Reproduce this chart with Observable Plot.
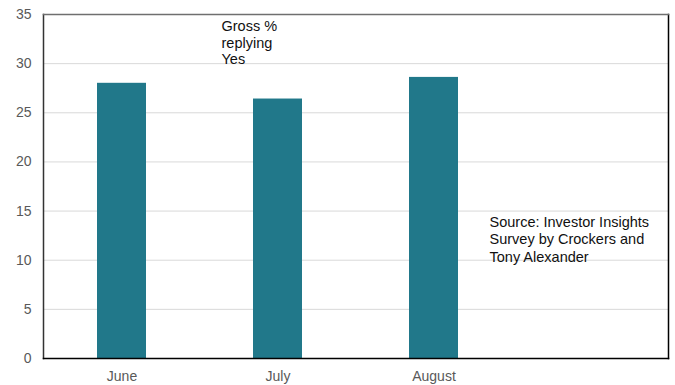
<!DOCTYPE html>
<html>
<head>
<meta charset="utf-8">
<script src="https://cdn.jsdelivr.net/npm/d3@7"></script>
<script src="https://cdn.jsdelivr.net/npm/@observablehq/plot@0.6"></script>
<style>
  html, body { margin: 0; padding: 0; background: #fff; }
  #chart { width: 675px; height: 385px; }
</style>
</head>
<body>
<div id="chart"></div>
<script>
const months = ["June", "July", "August"];
const values = [28.0, 26.4, 28.6];
const categories = [...months, ""];
const yTicks = [0, 5, 10, 15, 20, 25, 30, 35];
const seriesNote = ["Gross %\nreplying\nYes"];
const sourceNote = ["Source: Investor Insights\nSurvey by Crockers and\nTony Alexander"];

const data = months.map((m, i) => ({month: m, value: values[i]}));

const chart = Plot.plot({
  width: 675,
  height: 385,
  marginLeft: 43,
  marginRight: 7,
  marginTop: 14,
  marginBottom: 27,
  style: {fontFamily: "Liberation Sans, Arial, sans-serif", fontSize: "14px", background: "#fff"},
  x: {domain: categories, paddingInner: 0.686, paddingOuter: 0.343, align: 0.5},
  y: {domain: [0, 35]},
  marks: [
    Plot.gridY(yTicks, {stroke: "#d9d9d9", strokeOpacity: 1, strokeWidth: 1}),
    Plot.barY(data, {x: "month", y: "value", fill: "#21788a"}),
    Plot.axisY(yTicks, {tickSize: 0, tickPadding: 12, label: null, fill: "#595959", fontSize: 14}),
    Plot.axisX(months, {tickSize: 0, tickPadding: 13, label: null, fill: "#595959", fontSize: 14}),
    Plot.frame({anchor: "left", stroke: "#333", strokeWidth: 1.5}),
    Plot.frame({anchor: "right", stroke: "#000", strokeWidth: 1.5}),
    Plot.frame({anchor: "bottom", stroke: "#000", strokeWidth: 1.5}),
    Plot.frame({anchor: "top", stroke: "#6f6f6f", strokeWidth: 1.5}),
    Plot.text(seriesNote, {frameAnchor: "top-left", dx: 178, dy: 4, textAnchor: "start", lineAnchor: "top", lineHeight: 1.17, fill: "#111", fontSize: 14.5}),
    Plot.text(sourceNote, {frameAnchor: "top-left", dx: 446, dy: 200, textAnchor: "start", lineAnchor: "top", lineHeight: 1.2, fill: "#111", fontSize: 14.5})
  ]
});
document.getElementById("chart").appendChild(chart);
</script>
</body>
</html>
